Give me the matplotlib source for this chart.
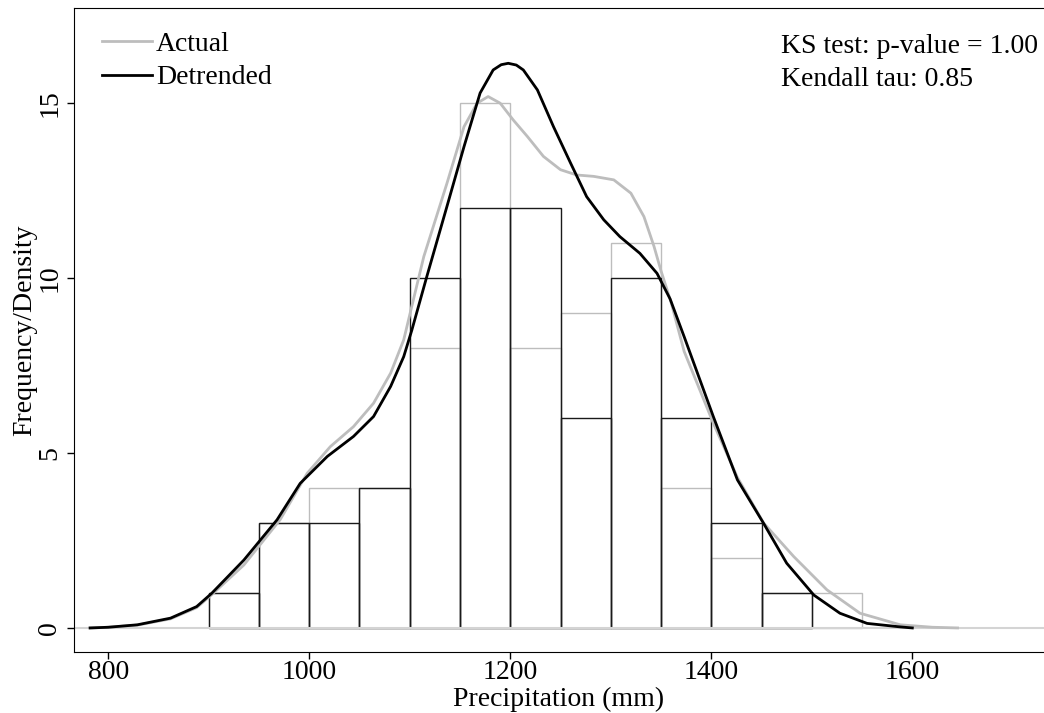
""" Precipitation histogram: actual vs detrended, with density curves """

import matplotlib
matplotlib.use('Agg')
import matplotlib.pyplot as plt
import numpy as np

plt.rcParams['font.family'] = ['Liberation Serif', 'DejaVu Serif']

# data

bin_edges = [900, 950, 1000, 1050, 1100, 1150, 1200, 1250, 1300, 1350, 1400, 1450, 1500]
bin_width = 50
counts_actual = [1, 3, 4, 4, 8, 15, 8, 9, 11, 4, 2, 1, 1]
counts_detrended = [1, 3, 3, 4, 10, 12, 12, 6, 10, 6, 3, 1, 0]

# density curves (scaled to frequency)
x_actual = [782, 800, 829, 862, 888, 903, 935, 971, 998, 1021, 1044, 1064, 1081, 1094,
            1114, 1137, 1154, 1167, 1178, 1190, 1203, 1217, 1233, 1250, 1266, 1283,
            1303, 1320, 1333, 1343, 1350, 1360, 1373, 1402, 1426, 1452, 1482, 1515,
            1548, 1588, 1620, 1645]
y_actual = [0.0, 0.02, 0.08, 0.26, 0.58, 0.95, 1.8, 3.09, 4.42, 5.18, 5.75, 6.42, 7.28, 8.23,
            10.61, 12.7, 14.32, 14.99, 15.18, 14.99, 14.51, 14.04, 13.47, 13.09, 12.94, 12.9,
            12.8, 12.42, 11.75, 10.9, 10.2, 9.3, 7.9, 5.85, 4.3, 3.0, 2.04, 1.09,
            0.42, 0.09, 0.02, 0.0]

x_detrended = [782, 800, 829, 862, 888, 903, 935, 968, 991, 1018, 1044, 1064, 1081, 1094,
               1102, 1117, 1137, 1154, 1170, 1183, 1191, 1198, 1206, 1213, 1227, 1243, 1260,
               1276, 1293, 1309, 1329, 1346, 1359, 1373, 1402, 1426, 1452, 1475, 1502, 1528,
               1555, 1588, 1600]
y_detrended = [0.0, 0.02, 0.09, 0.28, 0.61, 0.99, 1.94, 3.09, 4.13, 4.9, 5.47, 6.04, 6.9, 7.75,
               8.5, 10.04, 12.04, 13.75, 15.28, 15.94, 16.09, 16.13, 16.08, 15.94, 15.37, 14.32,
               13.28, 12.32, 11.66, 11.18, 10.7, 10.13, 9.4, 8.32, 6.04, 4.23, 2.99, 1.85, 0.94,
               0.42, 0.13, 0.03, 0.0]

ks_text = 'KS test: p-value = 1.00\nKendall tau: 0.85'

# figure design

fig = plt.figure(figsize=(10.44, 7.13), dpi=100)
ax = fig.add_axes([0.0709, 0.0856, 0.9291, 0.9032])

gray = '#bdbdbd'

edges = np.array(bin_edges)
ca = np.array(counts_actual)
cd = np.array(counts_detrended)
ax.bar(edges[ca > 0], ca[ca > 0], width=bin_width, align='edge', fill=False,
       edgecolor=gray, lw=1, zorder=1)
ax.bar(edges[cd > 0], cd[cd > 0], width=bin_width, align='edge', fill=False,
       edgecolor='#1a1a1a', lw=1, zorder=2)
ax.axhline(0, color='#d4d4d4', lw=1.5, zorder=2.5)

ax.plot(x_actual, y_actual, color=gray, lw=2, label='Actual', zorder=3)
ax.plot(x_detrended, y_detrended, color='black', lw=2, label='Detrended', zorder=4)

ax.set_xlim(766, 1731)
ax.set_ylim(-0.686, 17.71)
ax.set_xticks([800, 1000, 1200, 1400, 1600])
ax.set_yticks([0, 5, 10, 15])
ax.tick_params(axis='both', labelsize=20, direction='out', length=5, width=1)
ax.tick_params(axis='x', pad=1)
for lab in ax.get_yticklabels():
    lab.set_rotation(90)
    lab.set_va('center')
ax.set_xlabel('Precipitation (mm)', fontsize=20, va='baseline')
ax.xaxis.set_label_coords(0.5, -0.0839)
ax.set_ylabel('Frequency/Density', fontsize=20, va='center')
ax.yaxis.set_label_coords(-0.0505, 0.5)

ax.spines['right'].set_visible(False)

ax.legend(loc='upper left', bbox_to_anchor=(0.0, 1.007), frameon=False, fontsize=20,
          handlelength=1.8, handletextpad=0.15, labelspacing=0.3, borderaxespad=0.6)
ax.text(0.9935, 0.959, ks_text, transform=ax.transAxes, ha='right', va='top',
        multialignment='left', fontsize=20, linespacing=1.4)

# saving

plt.savefig('out.png', dpi=100)
